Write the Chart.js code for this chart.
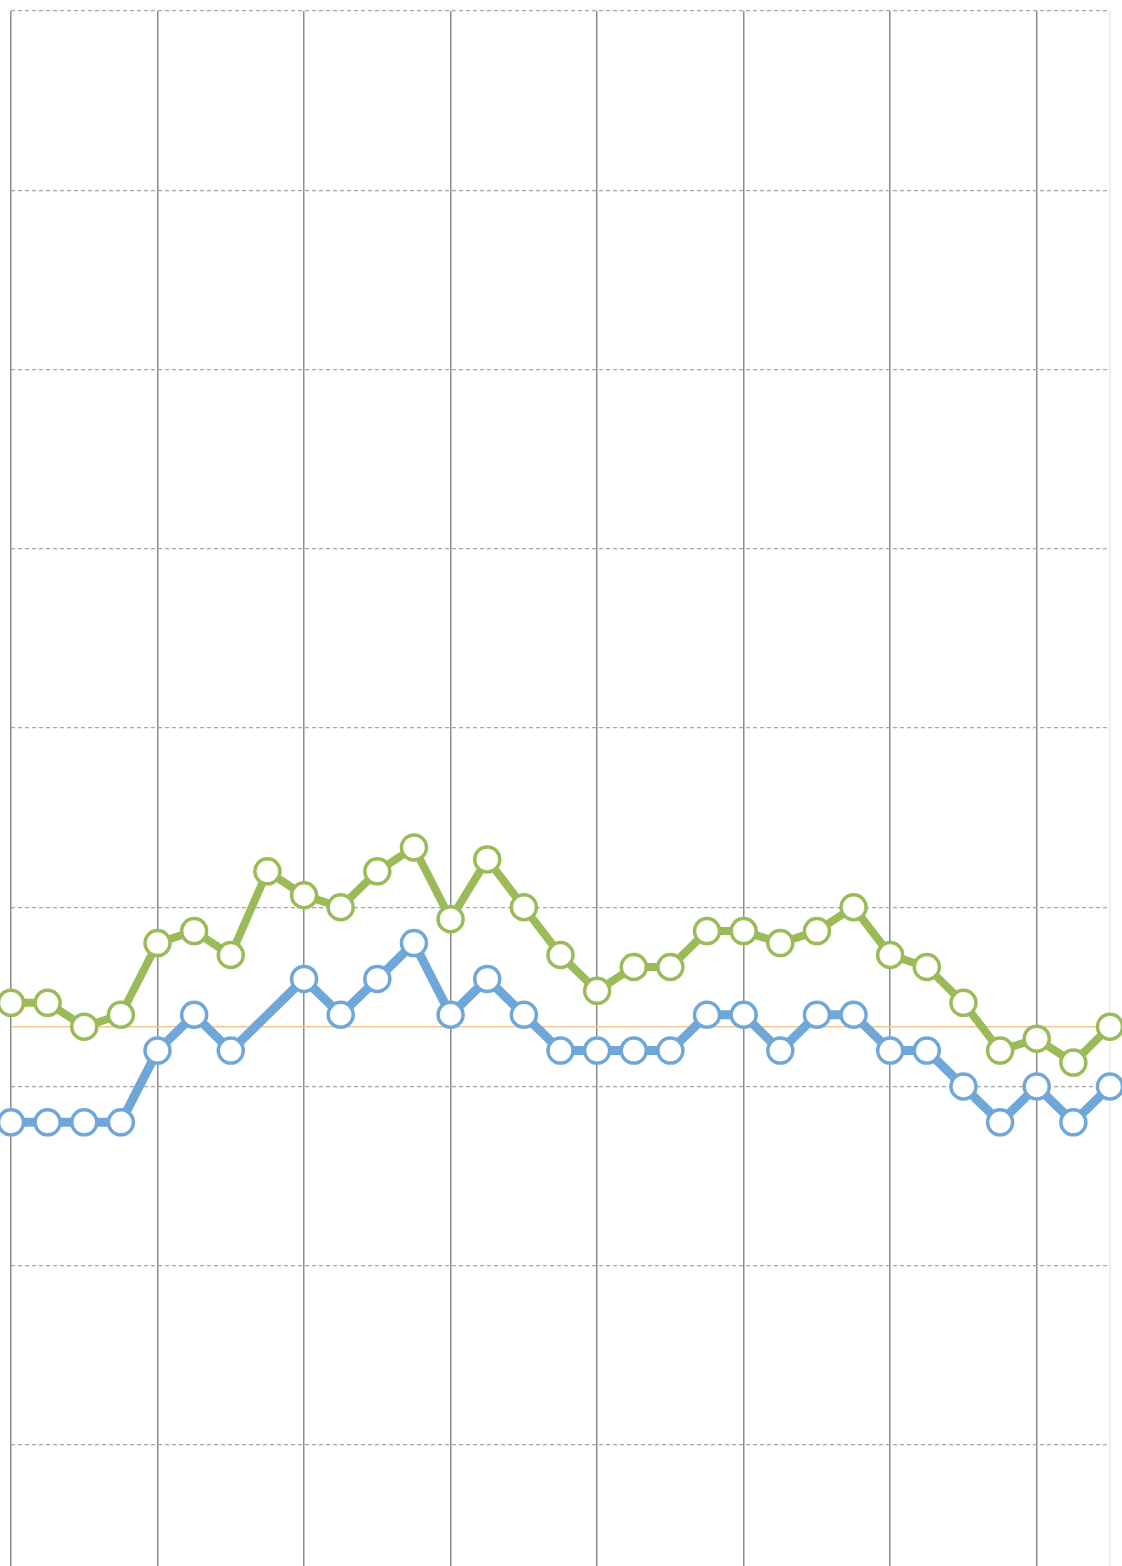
<!DOCTYPE html>
<html>
<head>
<meta charset="utf-8">
<script src="https://cdn.jsdelivr.net/npm/chart.js@4.4.1/dist/chart.umd.min.js"></script>
<style>
    html, body { margin: 0; padding: 0; background: #fff; }
    #wrap { width: 1122px; height: 1566px; }
</style>
</head>
<body>
<div id="wrap"><canvas id="grafico" width="1122" height="1566"></canvas></div>
<script>
// Datos
const categorias = ['1','2','3','4','5','6','7','8','9','10','11','12','13','14','15','16',
    '17','18','19','20','21','22','23','24','25','26','27','28','29','30','31'];
const serieVerde = [37, 37, 35, 36, 42, 43, 41, 48, 46, 45, 48, 50, 44, 49, 45, 41,
    38, 40, 40, 43, 43, 42, 43, 45, 41, 40, 37, 33, 34, 32, 35];
const serieAzul = [27, 27, 27, 27, 33, 36, 33, null, 39, 36, 39, 42, 36, 39, 36, 33,
    33, 33, 33, 36, 36, 33, 36, 36, 33, 33, 30, 27, 30, 27, 30];
const ticksY = [0, 15, 30, 45, 60, 75, 90, 105, 120];
const valorObjetivo = 35;

const colorVerde = '#9bbb59';
const colorAzul = '#6fa8d8';
const colorNaranja = '#f5c48f';

// Linea horizontal del objetivo
const lineaObjetivo = {
    id: 'lineaObjetivo',
    beforeDatasetsDraw(chart) {
        const ctx = chart.ctx;
        const area = chart.chartArea;
        const y = chart.scales.y.getPixelForValue(valorObjetivo);
        ctx.save();
        ctx.strokeStyle = colorNaranja;
        ctx.lineWidth = 1.5;
        ctx.beginPath();
        ctx.moveTo(area.left, y);
        ctx.lineTo(area.right, y);
        ctx.stroke();
        ctx.restore();
    }
};

function serie(datos, color, ancho) {
    return {
        data: datos,
        borderColor: color,
        borderWidth: ancho,
        pointRadius: 12.5,
        pointBorderWidth: 3.5,
        pointBackgroundColor: '#fff',
        pointBorderColor: color,
        spanGaps: true,
        tension: 0,
        clip: false
    };
}

new Chart(document.getElementById('grafico').getContext('2d'), {
    type: 'line',
    data: {
        labels: categorias,
        datasets: [serie(serieAzul, colorAzul, 9), serie(serieVerde, colorVerde, 8)]
    },
    options: {
        responsive: false,
        animation: false,
        layout: { autoPadding: false, padding: { left: 11, top: 11, right: 12, bottom: 0 } },
        plugins: { legend: { display: false }, tooltip: { enabled: false } },
        scales: {
            x: {
                offset: false,
                ticks: { display: false },
                border: { display: false },
                grid: {
                    drawTicks: false,
                    lineWidth: 1.5,
                    color: function(c) {
                        if (c.index === categorias.length - 1) return '#fde6d2';
                        return c.index % 4 === 0 ? '#8c8c8c' : 'rgba(0,0,0,0)';
                    }
                }
            },
            y: {
                min: -10.13,
                max: 120,
                afterBuildTicks: function(axis) {
                    axis.ticks = ticksY.map(v => ({ value: v }));
                },
                ticks: { display: false },
                border: { display: false, dash: [4, 3] },
                grid: {
                    drawTicks: false,
                    color: '#a6a6a6',
                    lineWidth: 1.2
                }
            }
        }
    },
    plugins: [lineaObjetivo]
});
</script>
</body>
</html>
